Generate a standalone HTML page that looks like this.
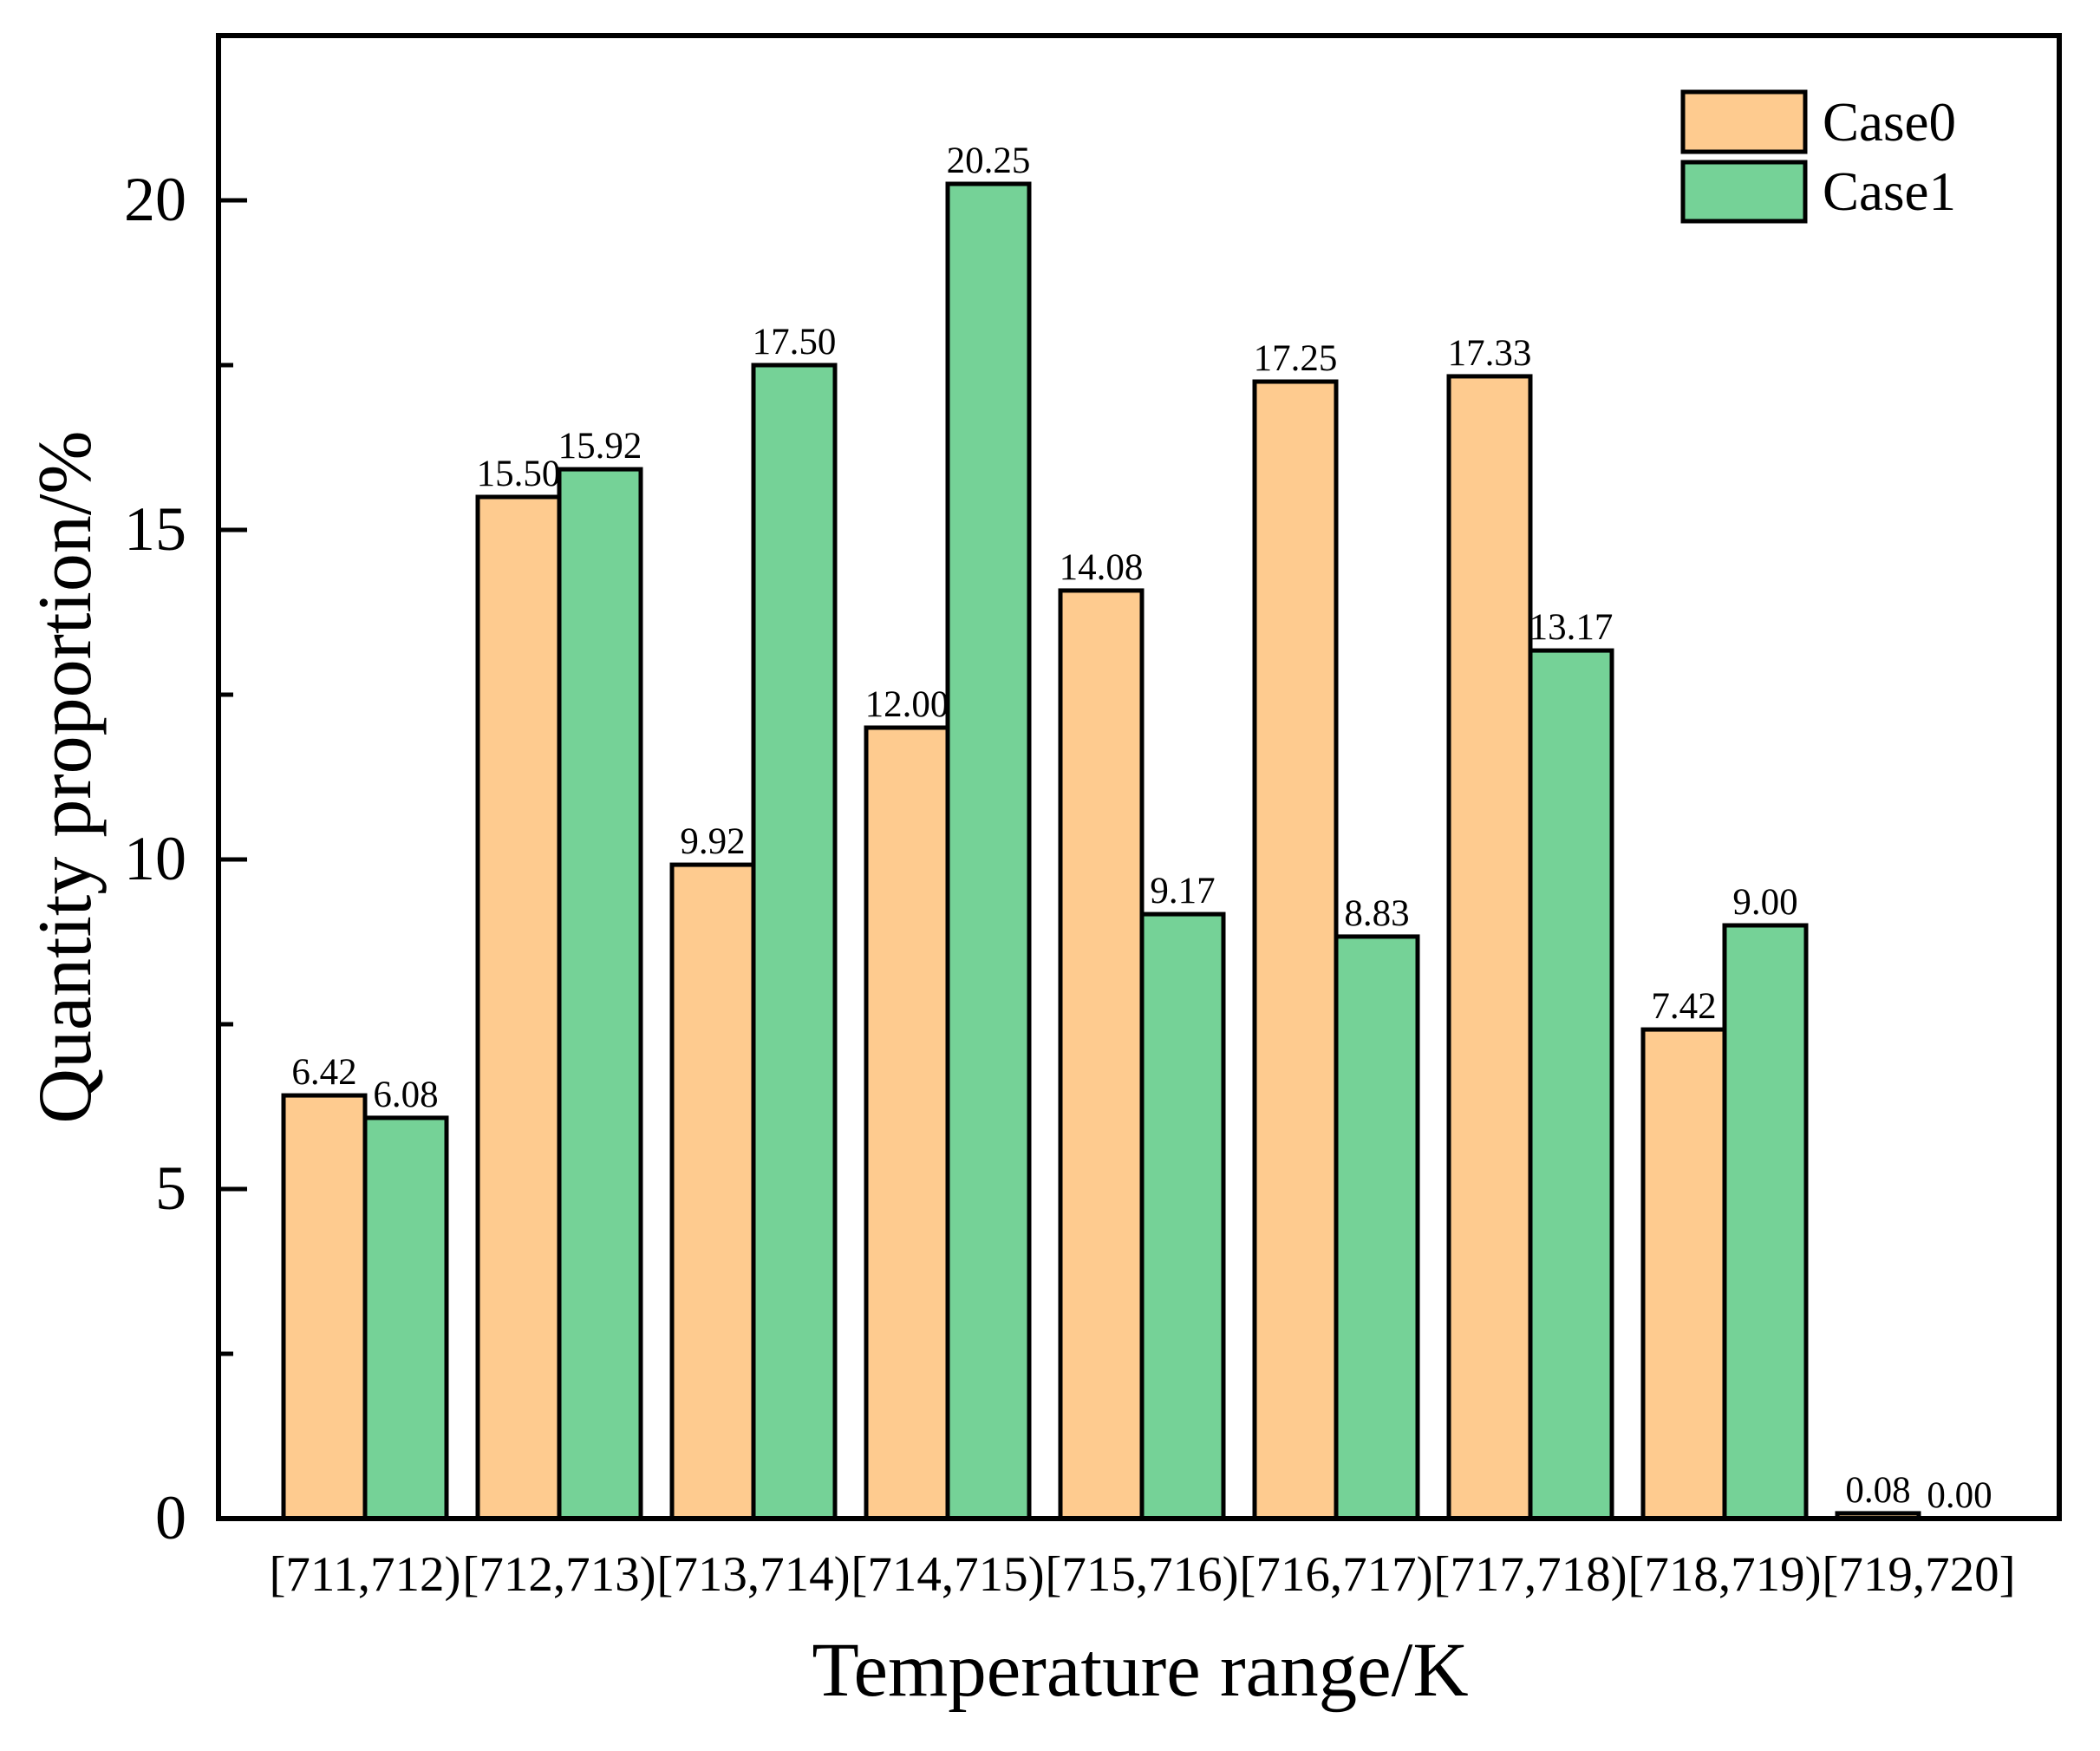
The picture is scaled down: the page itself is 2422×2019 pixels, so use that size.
<!DOCTYPE html>
<html><head><meta charset="utf-8"><style>
html,body{margin:0;padding:0;background:#fff;}
svg{display:block;}
text{font-family:"Liberation Serif",serif;fill:#000;}
</style></head><body>
<svg id="chart" width="2422" height="2019" viewBox="0 0 2422 2019">
<rect x="0" y="0" width="2422" height="2019" fill="#fff"/>
<g id="bars"></g>
<g id="labels"></g>
<g id="yaxis"></g>
<g id="xaxis"></g>
<rect x="252" y="41" width="2123" height="1710" fill="none" stroke="#000" stroke-width="6"/>
<text x="1315" y="1955" font-size="89" text-anchor="middle">Temperature range/K</text>
<text transform="translate(104,896) rotate(-90)" font-size="88" text-anchor="middle">Quantity proportion/%</text>
<g>
<rect x="1941" y="106" width="141" height="69" fill="#FECB8F" stroke="#000" stroke-width="5"/>
<text x="2102" y="162" font-size="63">Case0</text>
<rect x="1941" y="187" width="141" height="68" fill="#75D297" stroke="#000" stroke-width="5"/>
<text x="2102" y="242" font-size="63">Case1</text>
</g>
</svg>
<script>
const categories = ["[711,712)","[712,713)","[713,714)","[714,715)","[715,716)","[716,717)","[717,718)","[718,719)","[719,720]"];
const case0 = [6.42,15.50,9.92,12.00,14.08,17.25,17.33,7.42,0.08];
const case1 = [6.08,15.92,17.50,20.25,9.17,8.83,13.17,9.00,0.00];
const yTicks = [0,5,10,15,20];
const yMinorTicks = [2.5,7.5,12.5,17.5];

const NS = "http://www.w3.org/2000/svg";
const Y0 = 1751, PXU = 76.0;
function yScale(v){ return Y0 - v*PXU; }
function xCenter(i){ return 421 + i*224; }
const BW = 94;
function mk(tag, attrs, parent){
  const e = document.createElementNS(NS, tag);
  for (const k in attrs) e.setAttribute(k, attrs[k]);
  parent.appendChild(e);
  return e;
}
const gb = document.getElementById('bars');
const gl = document.getElementById('labels');
const gy = document.getElementById('yaxis');
const gx = document.getElementById('xaxis');

function drawSeries(vals, offset, color, name){
  vals.forEach((v,i)=>{
    const x = xCenter(i) + offset;
    const y = yScale(v);
    const r = mk('rect', {x: x, y: y, width: BW, height: Y0 - y, fill: color, stroke: '#000', 'stroke-width': 5}, gb);
    
    
    const t = mk('text', {x: x + BW/2, y: y - 13, 'font-size': 43, 'text-anchor': 'middle'}, gl);
    t.textContent = v.toFixed(2);
    
    
  });
}
drawSeries(case0, -BW, '#FECB8F', 'case0');
drawSeries(case1, 0, '#75D297', 'case1');

yTicks.forEach(v=>{
  const y = yScale(v);
  const l = mk('line', {x1: 252, x2: 285, y1: y, y2: y, stroke: '#000', 'stroke-width': 5}, gy);
  
  
  const t = mk('text', {x: 215, y: y + 23, 'font-size': 72, 'text-anchor': 'end'}, gy);
  t.textContent = v;
  
  
});
yMinorTicks.forEach(v=>{
  const y = yScale(v);
  const l = mk('line', {x1: 252, x2: 269, y1: y, y2: y, stroke: '#000', 'stroke-width': 5}, gy);
  
  
});
categories.forEach((c,i)=>{
  const t = mk('text', {x: xCenter(i), y: 1834, 'font-size': 57, 'text-anchor': 'middle'}, gx);
  t.textContent = c;
  
  
});
</script>
</body></html>
